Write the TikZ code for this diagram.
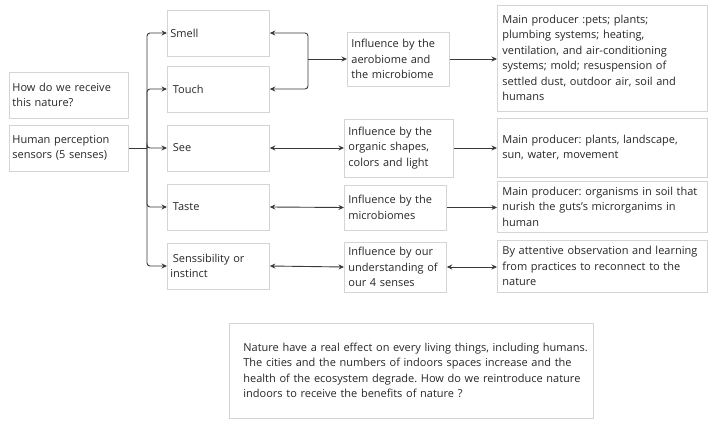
\documentclass[tikz,border=0pt]{standalone}
\usepackage{fontspec}
\setmainfont{Open Sans}
\usepackage{xcolor}
\usetikzlibrary{arrows.meta,positioning}
\definecolor{boxgray}{HTML}{D4D4D4}
\definecolor{arrgray}{HTML}{3A3A3A}
\definecolor{txtgray}{HTML}{262626}
\tikzstyle{bx}=[draw=boxgray, line width=0.8pt, inner xsep=3pt, inner ysep=2pt,
		align=left, anchor=west, text=txtgray]
\tikzstyle{arr}=[draw=arrgray, line width=0.9pt, -{Stealth[length=5.5pt,width=5pt]}]
\tikzstyle{darr}=[draw=arrgray, line width=0.9pt, {Stealth[length=5.5pt,width=5pt]}-{Stealth[length=5.5pt,width=5pt]}]
\frenchspacing

\begin{document}
\begin{tikzpicture}[x=1pt, y=-1pt,
	every node/.style={font=\fontsize{11}{15.5}\selectfont}]
            \useasboundingbox (0,0) rectangle (720,430);
            % left column
            \node[bx, text width=113pt, minimum height=46pt] (quest) at (9,95) {How do we receive\\this nature?};
            \node[bx, text width=113pt, minimum height=46pt] (human) at (9,148) {Human perception\\sensors (5 senses)};
            % senses
            \node[bx, text width=96pt, minimum height=46pt] (smell) at (167,33) {Smell};
            \node[bx, text width=96pt, minimum height=46pt] (touch) at (167,89) {\hspace*{2.5pt}Touch};
            \node[bx, text width=96pt, minimum height=46pt] (see) at (167,148) {\hspace*{2.5pt}See};
            \node[bx, text width=96pt, minimum height=46pt] (taste) at (167,207) {\hspace*{2.5pt}Taste};
            \node[bx, text width=96pt, minimum height=46pt] (sens) at (167,266) {\hspace*{2.5pt}Senssibility or\\instinct};
            % influences
            \node[bx, inner xsep=4pt, text width=94pt, minimum height=54pt] (infaero) at (347,59) {Influence by the\\aerobiome and\\the microbiome};
            \node[bx, inner xsep=4pt, text width=101pt, minimum height=58pt] (infshape) at (344,148) {Influence by the\\organic shapes,\\colors and light};
            \node[bx, inner xsep=4pt, text width=94pt, minimum height=45pt] (infmicro) at (344,207.5) {Influence by the\\microbiomes};
            \node[bx, inner xsep=4pt, text width=94pt, minimum height=50pt] (infsense) at (344,267) {Influence by our\\understanding of\\our 4 senses};
            % producers
            \node[bx, inner xsep=5pt, text width=200pt, minimum height=106pt] (prodaero) at (497,58) {Main producer :pets; plants;\\plumbing systems; heating,\\ventilation, and air-conditioning\\systems; mold; resuspension of\\settled dust, outdoor air, soil and\\humans};
            \node[bx, inner xsep=5pt, text width=200pt, minimum height=59pt] (prodshape) at (497,147.5) {Main producer: plants, landscape,\\sun, water, movement};
            \node[bx, inner xsep=5pt, text width=200pt, minimum height=51pt] (prodmicro) at (497,206.5) {Main producer: organisms in soil that\\nurish the guts's microrganims in\\human};
            \node[bx, inner xsep=5pt, text width=200pt, minimum height=52pt] (prodsense) at (497,266) {By attentive observation and learning\\from practices to reconnect to the\\nature};
            % note
            \node[bx, inner xsep=0pt, text width=364pt, minimum height=95pt] (note) at (229,370.5) {\leftskip=14pt Nature have a real effect on every living things, including humans.\\The cities and the numbers of indoors spaces increase and the\\health of the ecosystem degrade. How do we reintroduce nature\\indoors to receive the benefits of nature ?\par};
            % tree from the sensors
            \coordinate (fork) at (147,148);
            \draw[draw=arrgray, line width=0.9pt] (human.east) -- (fork);
            \foreach \s in {smell,touch,see,taste,sens}
                \draw[arr, rounded corners=3pt] (fork) |- (\s.west);
            % bracket smell and touch
            \coordinate (brace) at (308,59);
            \draw[arr, rounded corners=3pt] (brace) |- (smell.east);
            \draw[arr, rounded corners=3pt] (brace) |- (touch.east);
            \draw[arr] (brace) -- (infaero.west);
            % links
            \draw[darr] (see.east) -- (infshape.west);
            \draw[darr] (taste.east) -- (infmicro.west);
            \draw[darr] (sens.east) -- (infsense.west);
            \draw[arr] (infaero.east) -- (prodaero.west |- infaero.east);
            \draw[arr] (infshape.east) -- (prodshape.west |- infshape.east);
            \draw[arr] (infmicro.east) -- (prodmicro.west |- infmicro.east);
            \draw[darr] (infsense.east) -- (prodsense.west |- infsense.east);
\end{tikzpicture}
\end{document}
